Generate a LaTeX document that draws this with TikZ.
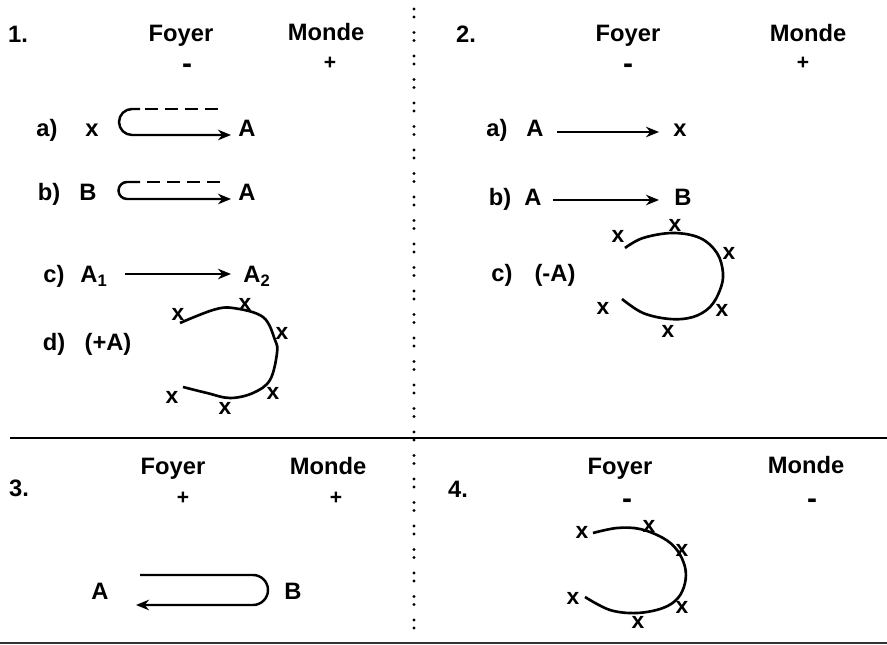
\documentclass[tikz,border=0pt]{standalone}
\usepackage{fontspec}
\setmainfont{Liberation Sans}
\usetikzlibrary{arrows.meta}

\begin{document}
\begin{tikzpicture}[
    x=0.2mm,
    y=-0.2mm,
    font=\fontsize{13.5}{16}\selectfont\bfseries,
    txt/.style={anchor=base,inner sep=0pt},
    sign/.style={inner sep=0pt,font=\fontsize{12}{12}\selectfont\bfseries},
    minus/.style={inner sep=0pt,font=\fontsize{17}{17}\selectfont\bfseries},
    xmark/.style={inner sep=0pt,font=\fontsize{13}{13}\selectfont\bfseries},
    arr/.style={-{Stealth[length=2.6mm,width=2.1mm]},line width=1.4pt},
    dashline/.style={line width=1.3pt,dash pattern=on 2.6mm off 1.4mm},
    loopline/.style={line width=1.5pt},
    divider/.style={line width=1.8pt,line cap=round,dash pattern=on 0pt off 1.6mm on 0pt off 3.1mm},
    rule/.style={line width=1.6pt},
    baserule/.style={line width=0.8pt,draw=black!80}
  ]
    \useasboundingbox (0,0) rectangle (887,645);

    \draw[divider] (414,9) -- (414,640);
    \draw[rule] (10,438) -- (887,438);
    \draw[baserule] (0,643) -- (887,643);

    \foreach \n/\x/\y in {1/18/43,2/466/43,3/19/497,4/458/498} {
      \node[txt] (num\n) at (\x,\y) {\n.};
    }
    \foreach \n/\xf/\yf/\xm/\ym in {1/181/42/326/41,2/628/42/808/42,3/173/475/328/475,4/620/475/806/474} {
      \node[txt] (foyer\n) at (\xf,\yf) {Foyer};
      \node[txt] (monde\n) at (\xm,\ym) {Monde};
    }
    \node[minus] (sf1) at (187,69) {-};
    \node[sign] (sm1) at (330,63) {+};
    \node[minus] (sf2) at (628,69) {-};
    \node[sign] (sm2) at (803,63) {+};
    \node[sign] (sf3) at (183,498) {+};
    \node[sign] (sm3) at (336,498) {+};
    \node[minus] (sf4) at (627,504) {-};
    \node[minus] (sm4) at (812,504) {-};

    \node[txt] (la1) at (47,137) {a)};
    \node[txt] (xa1) at (92,137) {x};
    \node[txt] (Aa1) at (247,137) {A};
    \node[txt] (lb1) at (49,201) {b)};
    \node[txt] (Bb1) at (88,201) {B};
    \node[txt] (Ab1) at (247,201) {A};
    \node[txt] (lc1) at (54,283) {c)};
    \node[txt] (Aone) at (94,283) {A\textsubscript{1}};
    \node[txt] (Atwo) at (257,283) {A\textsubscript{2}};
    \node[txt] (ld1) at (54,351) {d)};
    \node[txt] (pA1) at (108,351) {(+A)};

    \coordinate (ha1) at (140,109);
    \coordinate (ea1) at (231,135);
    \draw[arr] (ha1) -- (132,109) arc[start angle=270,end angle=90,radius=13] -- (ea1);
    \draw[dashline] (145,109) -- (220,109);
    \coordinate (hb1) at (140,182);
    \coordinate (eb1) at (231,199);
    \draw[arr] (hb1) -- (127,182) arc[start angle=270,end angle=90,radius=8.5] -- (eb1);
    \draw[dashline] (147,182) -- (220,182);
    \coordinate (sc1) at (125,274);
    \coordinate (ec1) at (231,274);
    \draw[arr] (sc1) -- (ec1);

    \draw[loopline] plot[smooth,tension=0.6] coordinates {(180,323) (213,310) (233,308) (263,317) (275,340) (277,353) (270,380) (253,393) (230,398) (207,393) (183,387)};
    \foreach \x/\y [count=\i] in {178/314,245/304,282/333,273/393,225/408,172/397} {
      \node[xmark] (xd\i) at (\x,\y) {x};
    }

    \node[txt] (la2) at (497,137) {a)};
    \node[txt] (Aa2) at (535,137) {A};
    \node[txt] (xa2) at (680,137) {x};
    \node[txt] (lb2) at (500,206) {b)};
    \node[txt] (Ab2) at (533,206) {A};
    \node[txt] (Bb2) at (683,206) {B};
    \node[txt] (lc2) at (502,282) {c)};
    \node[txt] (mA2) at (555,282) {(-A)};
    \coordinate (sa2) at (557,132);
    \coordinate (ea2) at (659,132);
    \draw[arr] (sa2) -- (ea2);
    \coordinate (sb2) at (553,200);
    \coordinate (eb2) at (659,200);
    \draw[arr] (sb2) -- (eb2);

    \draw[loopline] plot[smooth,tension=0.6] coordinates {(625,248) (643,238) (673,233) (700,238) (717,253) (723,273) (720,290) (710,307) (693,317) (670,319) (643,313) (622,299)};
    \foreach \x/\y [count=\i] in {618/236,675/225,729/253,722/310,668/331,603/308} {
      \node[xmark] (xc\i) at (\x,\y) {x};
    }

    \node[txt] (A3) at (100,600) {A};
    \node[txt] (B3) at (293,600) {B};
    \coordinate (s3) at (140,575);
    \coordinate (e3) at (136,605);
    \draw[arr] (s3) -- (253,575) arc[start angle=270,end angle=450,radius=15] -- (e3);

    \draw[loopline] plot[smooth,tension=0.6] coordinates {(593,533) (617,528) (640,529) (663,538) (677,550) (685,567) (685,583) (678,598) (663,608) (637,613) (610,610) (585,597)};
    \foreach \x/\y [count=\i] in {582/532,649/526,682/550,682/607,638/622,573/598} {
      \node[xmark] (xf\i) at (\x,\y) {x};
    }
\end{tikzpicture}
\end{document}
